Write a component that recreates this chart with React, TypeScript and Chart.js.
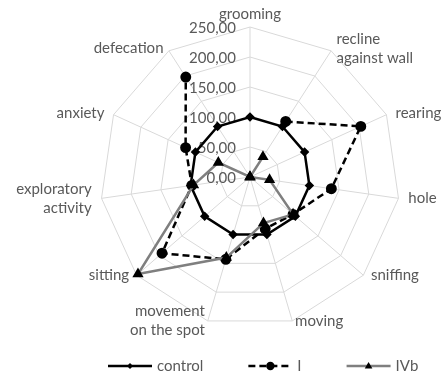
import React, { useEffect, useRef } from 'react';
import { Chart, registerables } from 'chart.js';

Chart.register(...registerables);

const categories: string[][] = [
  ['grooming'],
  ['recline', 'against wall'],
  ['rearing'],
  ['hole'],
  ['sniffing'],
  ['moving'],
  ['movement', 'on the spot'],
  ['sitting'],
  ['exploratory', 'activity'],
  ['anxiety'],
  ['defecation'],
];
const controlValues = [100, 100, 100, 100, 100, 100, 100, 100, 100, 100, 100];
const iValues = [null, 110, 203, 137, 95, 90, 143, 194, 98, 118, 198];
const ivbValues = [0, 40, 0, 33, 95, 80, 140, 247, 95, 58, 0];
const tickValues = [0, 50, 100, 150, 200, 250];
const tickLabels = ['0,00', '50,00', '100,00', '150,00', '200,00', '250,00'];
const seriesNames = ['control', 'I', 'IVb'];

const FONT = '15px Lato';
const TEXT = '#595959';

function drawMarker(ctx: CanvasRenderingContext2D, style: string, x: number, y: number, r: number) {
  ctx.beginPath();
  if (style === 'circle') {
    ctx.arc(x, y, r, 0, Math.PI * 2);
  } else if (style === 'rectRot') {
    ctx.moveTo(x, y - r);
    ctx.lineTo(x + r, y);
    ctx.lineTo(x, y + r);
    ctx.lineTo(x - r, y);
    ctx.closePath();
  } else {
    ctx.moveTo(x, y - r);
    ctx.lineTo(x + r * 0.95, y + r * 0.6);
    ctx.lineTo(x - r * 0.95, y + r * 0.6);
    ctx.closePath();
  }
  ctx.fill();
}

const decorPlugin = {
  id: 'decor',
  beforeDatasetsDraw(chart: any) {
    const s = chart.scales.r;
    const ctx = chart.ctx as CanvasRenderingContext2D;
    ctx.save();
    ctx.font = FONT;
    ctx.fillStyle = TEXT;
    ctx.textAlign = 'right';
    ctx.textBaseline = 'middle';
    tickValues.forEach((v, i) => {
      const d = s.getDistanceFromCenterForValue(v);
      ctx.fillText(tickLabels[i], s.xCenter - 14, s.yCenter - d + 1);
    });
    ctx.restore();
  },
  afterDraw(chart: any) {
    const s = chart.scales.r;
    const ctx = chart.ctx as CanvasRenderingContext2D;
    const n = categories.length;
    ctx.save();
    ctx.font = FONT;
    ctx.fillStyle = TEXT;
    ctx.textBaseline = 'middle';
    for (let i = 0; i < n; i++) {
      const lines = categories[i];
      const outer = s.getPointPosition(i, s.drawingArea + 10);
      const v = s.getPointPosition(i, s.drawingArea);
      const ang = (i / n) * Math.PI * 2;
      const sin = Math.sin(ang);
      const cos = Math.cos(ang);
      let x = outer.x;
      let align: CanvasTextAlign = 'center';
      if (Math.abs(sin) > 0.05) align = sin > 0 ? 'left' : 'right';
      let yc = v.y - 3 * Math.max(cos, 0);
      if (i === 0) {
        x = v.x;
        yc = v.y - 13;
      }
      ctx.textAlign = align;
      const lh = 19;
      lines.forEach((ln, j) => {
        ctx.fillText(ln, x, yc + (j - (lines.length - 1) / 2) * lh);
      });
    }
    // legend
    const items = chart.data.datasets.map((ds: any, i: number) => ({
      text: seriesNames[i],
      color: ds.borderColor,
      dash: ds.borderDash || [],
      style: ds.pointStyle,
      r: ds.pointRadius,
    }));
    let lx = 108;
    const ly = 366;
    items.forEach((it: any) => {
      ctx.save();
      ctx.strokeStyle = it.color;
      ctx.lineWidth = 2.5;
      ctx.setLineDash(it.dash);
      ctx.beginPath();
      ctx.moveTo(lx, ly);
      ctx.lineTo(lx + 44, ly);
      ctx.stroke();
      ctx.restore();
      ctx.fillStyle = '#000';
      drawMarker(ctx, it.style, lx + 22, ly, it.r);
      ctx.fillStyle = TEXT;
      ctx.textAlign = 'left';
      ctx.fillText(it.text, lx + 49, ly);
      lx += 49 + ctx.measureText(it.text).width + 45;
    });
    ctx.restore();
  },
};

export default function App() {
  const ref = useRef<HTMLCanvasElement>(null);
  useEffect(() => {
    if (!ref.current) return;
    const chart = new Chart(ref.current, {
      type: 'radar',
      data: {
        labels: categories,
        datasets: [
          {
            label: seriesNames[0],
            data: controlValues,
            borderColor: '#000000',
            backgroundColor: '#000000',
            borderWidth: 2.5,
            pointStyle: 'rectRot',
            pointRadius: 3,
            pointBackgroundColor: '#000000',
            pointBorderColor: '#000000',
            fill: false,
            order: 2,
            clip: false,
          } as any,
          {
            label: seriesNames[1],
            data: iValues,
            borderColor: '#000000',
            backgroundColor: '#000000',
            borderWidth: 2.5,
            borderDash: [7, 4],
            pointStyle: 'circle',
            pointRadius: 4.2,
            pointBackgroundColor: '#000000',
            pointBorderColor: '#000000',
            fill: false,
            spanGaps: false,
            order: 1,
            clip: false,
          } as any,
          {
            label: seriesNames[2],
            data: ivbValues,
            borderColor: '#7f7f7f',
            backgroundColor: '#000000',
            borderWidth: 2.5,
            pointStyle: 'triangle',
            pointRadius: 4,
            pointBackgroundColor: '#000000',
            pointBorderColor: '#000000',
            fill: false,
            order: 0,
            clip: false,
          } as any,
        ],
      },
      options: {
        responsive: false,
        animation: false,
        devicePixelRatio: 1,
        layout: { padding: { left: 100, right: 43, top: 27, bottom: 49 } },
        plugins: { legend: { display: false }, tooltip: { enabled: false } },
        elements: { line: { tension: 0 } },
        scales: {
          r: {
            min: 0,
            max: 250,
            ticks: { display: false, stepSize: 50 },
            pointLabels: { display: false },
            grid: { color: '#d9d9d9', lineWidth: 1 },
            angleLines: { color: '#d9d9d9', lineWidth: 1 },
          },
        },
      },
      plugins: [decorPlugin],
    });
    return () => chart.destroy();
  }, []);
  return (
    <div style={{ position: 'fixed', left: 0, top: 0, width: 443, height: 376, background: '#fff' }}>
      <canvas ref={ref} width={443} height={376} style={{ display: 'block', width: 443, height: 376 }} />
    </div>
  );
}
